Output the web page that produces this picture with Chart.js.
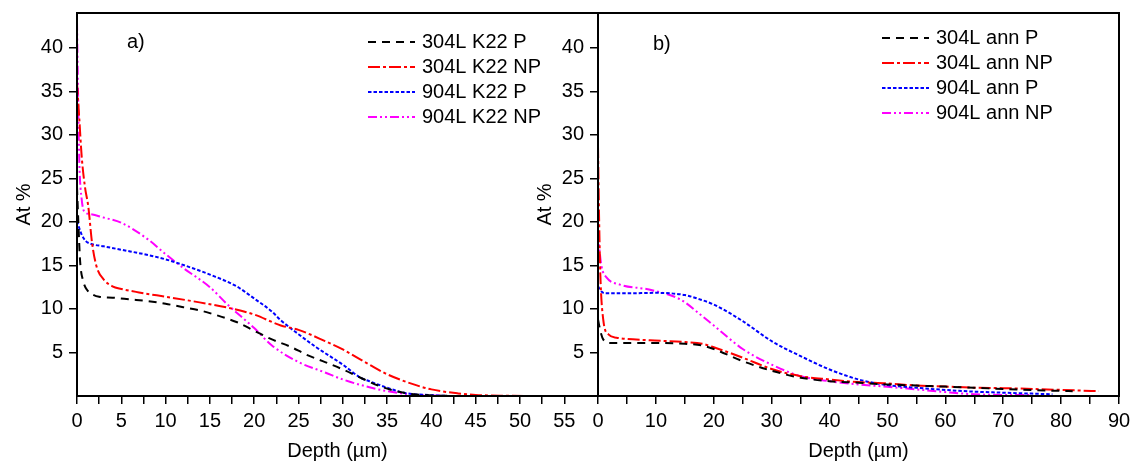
<!DOCTYPE html>
<html>
<head>
<meta charset="utf-8">
<script src="https://cdn.jsdelivr.net/npm/chart.js@4"></script>
<style>
  body { margin: 0; background: #fff; }
  #wrap { position: relative; width: 1135px; height: 463px; overflow: hidden; }
  #wrap canvas { position: absolute; top: 0; }
</style>
</head>
<body>
<div id="wrap">
  <canvas id="k22" width="610" height="463" style="left:0"></canvas>
  <canvas id="ann" width="615" height="463" style="left:520px"></canvas>
</div>
<script>
// a) K22 samples
const depthK22_304P = [0, 0.15, 0.35, 0.7, 1.2, 1.7, 2.5, 4, 6, 8, 10, 12, 14, 16, 18, 20, 22, 24, 26, 28, 30, 32, 34, 36, 38, 40, 43];
const atK22_304P    = [24, 20, 15.5, 13.2, 12.1, 11.7, 11.4, 11.3, 11.1, 10.9, 10.6, 10.2, 9.8, 9.2, 8.5, 7.5, 6.5, 5.7, 4.7, 3.9, 3.05, 2.1, 1.2, 0.55, 0.2, 0.07, 0];

const depthK22_304NP = [0, 0.25, 0.53, 0.9, 1.27, 1.7, 2.2, 3, 4, 5, 7, 10, 13, 17, 20, 23, 25, 28, 30, 33, 35, 38, 40, 43, 45, 48, 53];
const atK22_304NP    = [36, 32, 27.5, 24, 21.8, 17.6, 14.9, 13.4, 12.6, 12.3, 11.9, 11.4, 10.9, 10.15, 9.36, 8.1, 7.6, 6.3, 5.35, 3.6, 2.5, 1.33, 0.76, 0.3, 0.12, 0.03, 0];

const depthK22_904P = [0, 0.5, 1, 1.5, 3, 5, 8, 10, 13, 15, 18, 20, 22, 23, 25, 27, 30, 32, 33, 35, 37, 40, 42];
const atK22_904P    = [20.1, 18.6, 17.8, 17.5, 17.2, 16.8, 16.2, 15.7, 14.7, 13.95, 12.6, 11.2, 9.7, 8.7, 7.1, 5.6, 3.6, 2.1, 1.7, 0.95, 0.35, 0.1, 0];

const depthK22_904NP = [0, 0.1, 0.26, 0.53, 0.9, 1.5, 3, 5, 8, 10, 12, 15, 17, 20, 22, 25, 28, 30, 33, 35, 38, 40, 42];
const atK22_904NP    = [43, 36, 27, 22.6, 21.1, 20.9, 20.5, 19.9, 18.0, 16.3, 14.7, 12.5, 10.5, 7.8, 5.8, 3.9, 2.7, 1.9, 1.0, 0.56, 0.15, 0.05, 0];

// b) annealed samples
const depthAnn_304P = [0, 0.4, 0.9, 2.1, 5, 10, 15, 18, 20, 25, 30, 35, 40, 45, 50, 55, 60, 65, 70, 75, 82];
const atAnn_304P    = [8.8, 7.5, 6.5, 6.1, 6.1, 6.1, 6.0, 5.8, 5.4, 4.0, 2.9, 2.1, 1.7, 1.52, 1.33, 1.2, 1.08, 0.95, 0.8, 0.68, 0.55];

const depthAnn_304NP = [0, 0.2, 0.4, 0.9, 1.8, 3.2, 9, 15, 18, 20, 25, 30, 35, 40, 45, 50, 55, 60, 65, 70, 80, 86.5];
const atAnn_304NP    = [28.7, 20, 14, 8.8, 7.07, 6.7, 6.4, 6.2, 6.0, 5.6, 4.4, 3.1, 2.28, 1.9, 1.6, 1.45, 1.2, 1.08, 0.95, 0.9, 0.7, 0.56];

const depthAnn_904P = [0, 0.6, 1.2, 5, 10, 15, 17.6, 20, 25, 30, 35, 40, 45, 50, 55, 60, 65, 70, 78.5];
const atAnn_904P    = [12.6, 12.0, 11.8, 11.8, 11.85, 11.6, 11.1, 10.5, 8.6, 6.3, 4.58, 3.05, 1.9, 1.25, 0.95, 0.7, 0.5, 0.38, 0.2];

const depthAnn_904NP = [0, 0.3, 0.6, 1.5, 3.8, 9, 14.2, 17.6, 20, 25, 30, 35, 40, 45, 50, 55, 60, 65, 70, 75];
const atAnn_904NP    = [18.8, 16.5, 14.9, 13.6, 12.8, 12.2, 11.1, 9.4, 8.1, 5.4, 3.6, 2.28, 1.7, 1.33, 1.06, 0.76, 0.45, 0.2, 0.12, 0.1];

const yTicks = [5, 10, 15, 20, 25, 30, 35, 40];

Chart.defaults.font.family = '"Liberation Sans", Arial, sans-serif';
Chart.defaults.font.size = 20;
Chart.defaults.color = '#000';

const dashP304  = [8, 6];
const dashNP304 = [12, 3, 3, 3];
const dashP904  = [3.5, 2];
const dashNP904 = [9, 3, 2, 3, 2, 3];

function pts(xs, ys) {
  return xs.map((x, i) => ({ x: x, y: ys[i] }));
}

function line(label, xs, ys, color, dash) {
  return {
    label: label,
    data: pts(xs, ys),
    borderColor: color,
    borderDash: dash,
    borderWidth: 2,
    pointRadius: 0,
    fill: false,
    cubicInterpolationMode: 'monotone'
  };
}

// frame, inset legend and panel tag
const panelDecor = {
  id: 'panelDecor',
  afterDraw(chart, args, opts) {
    const { ctx, chartArea: a } = chart;
    ctx.save();
    ctx.strokeStyle = '#000';
    ctx.lineWidth = 2;
    ctx.setLineDash([]);
    ctx.strokeRect(a.left, a.top, a.right - a.left, a.bottom - a.top);

    ctx.font = '20px "Liberation Sans", Arial, sans-serif';
    ctx.fillStyle = '#000';
    ctx.textBaseline = 'middle';
    ctx.fillText(opts.tag, opts.tagX, opts.tagY);

    chart.data.datasets.forEach((ds, i) => {
      const y = opts.legendY + i * 25;
      ctx.strokeStyle = ds.borderColor;
      ctx.lineWidth = ds.borderWidth;
      ctx.setLineDash(ds.borderDash);
      ctx.beginPath();
      ctx.moveTo(opts.legendX, y);
      ctx.lineTo(opts.legendX + 47, y);
      ctx.stroke();
      ctx.setLineDash([]);
      ctx.fillText(ds.label, opts.legendX + 54, y);
    });
    ctx.restore();
  }
};

function panelOptions(xMax, xStep, labelEvery, yWidth, titlePad, padRight, decor) {
  return {
    responsive: false,
    animation: false,
    layout: { padding: { top: 13, right: padRight, left: 0, bottom: 0 } },
    plugins: { legend: { display: false }, tooltip: { enabled: false }, panelDecor: decor },
    scales: {
      x: {
        type: 'linear',
        min: 0,
        max: xMax,
        afterBuildTicks: s => {
          s.ticks = s.ticks.filter(t => Math.abs(t.value / xStep - Math.round(t.value / xStep)) < 1e-6);
        },
        afterFit: s => {
          s.height = 67;
          s.paddingLeft = 0;
          s.paddingRight = 0;
        },
        ticks: {
          stepSize: xStep,
          autoSkip: false,
          maxRotation: 0,
          padding: 5,
          callback: v => (v % labelEvery === 0 ? v : '')
        },
        grid: { drawOnChartArea: false, drawTicks: true, tickLength: 8, color: '#000', lineWidth: 1.5 },
        border: { display: false },
        title: { display: true, text: 'Depth (µm)', padding: { top: 0, bottom: 0 } }
      },
      y: {
        type: 'linear',
        min: 0,
        max: 44,
        afterBuildTicks: s => {
          s.ticks = yTicks.map(v => ({ value: v }));
        },
        afterFit: s => {
          s.width = yWidth;
          s.paddingTop = 0;
          s.paddingBottom = 0;
        },
        ticks: { stepSize: 5, padding: 6 },
        grid: { drawOnChartArea: false, drawTicks: true, tickLength: 8, color: '#000', lineWidth: 1.5 },
        border: { display: false },
        title: { display: true, text: 'At %', padding: { top: titlePad, bottom: 0 } }
      }
    }
  };
}

new Chart(document.getElementById('k22'), {
  type: 'line',
  data: {
    datasets: [
      line('304L K22 P', depthK22_304P, atK22_304P, '#000000', dashP304),
      line('304L K22 NP', depthK22_304NP, atK22_304NP, '#ff0000', dashNP304),
      line('904L K22 P', depthK22_904P, atK22_904P, '#0000ff', dashP904),
      line('904L K22 NP', depthK22_904NP, atK22_904NP, '#ff00ff', dashNP904)
    ]
  },
  options: panelOptions(58.8, 2.5, 5, 77, 12, 12,
    { tag: 'a)', tagX: 127, tagY: 42, legendX: 368, legendY: 42 }),
  plugins: [panelDecor]
});

new Chart(document.getElementById('ann'), {
  type: 'line',
  data: {
    datasets: [
      line('304L ann P', depthAnn_304P, atAnn_304P, '#000000', dashP304),
      line('304L ann NP', depthAnn_304NP, atAnn_304NP, '#ff0000', dashNP304),
      line('904L ann P', depthAnn_904P, atAnn_904P, '#0000ff', dashP904),
      line('904L ann NP', depthAnn_904NP, atAnn_904NP, '#ff00ff', dashNP904)
    ]
  },
  options: panelOptions(90, 5, 10, 78, 13, 16,
    { tag: 'b)', tagX: 133, tagY: 44, legendX: 362, legendY: 38 }),
  plugins: [panelDecor]
});
</script>
</body>
</html>
